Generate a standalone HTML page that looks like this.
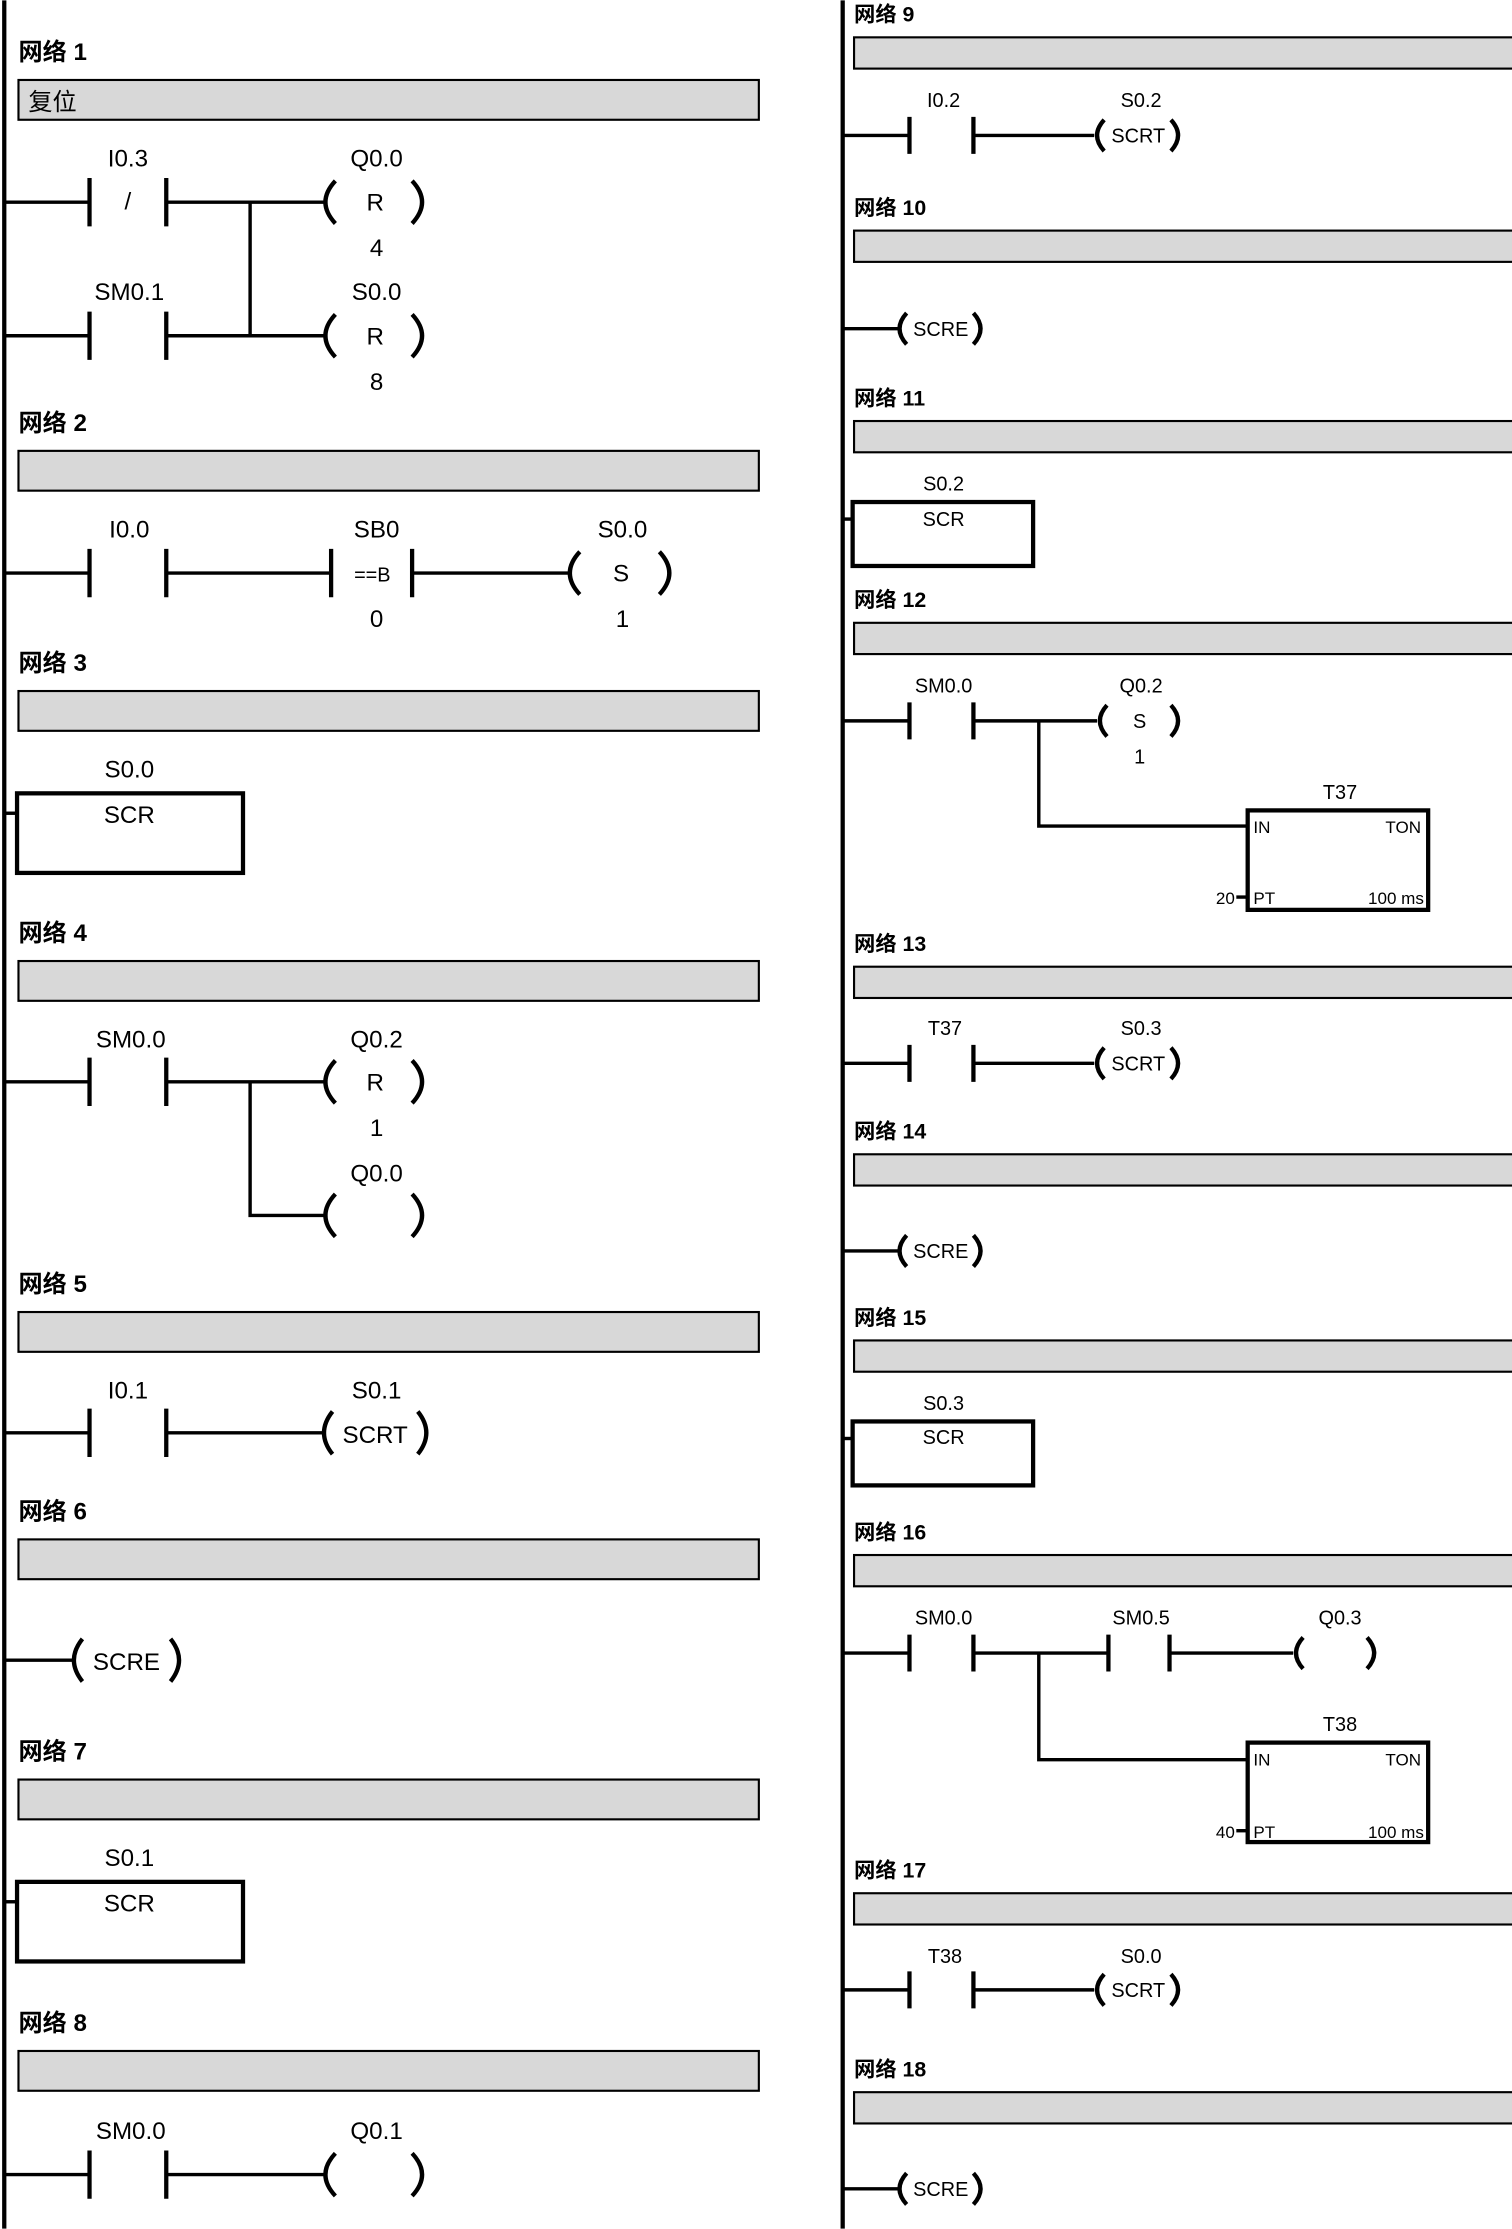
<!DOCTYPE html>
<html><head><meta charset="utf-8"><style>
html,body{margin:0;padding:0;background:#fff;}
svg{display:block;}
text{font-family:"Liberation Sans","Noto Sans CJK SC",sans-serif;fill:#000;}
.h{font-weight:bold;font-size:17px;}
.hr{font-weight:bold;font-size:15px;}
.l{font-size:17px;text-anchor:middle;}
.r{font-size:14px;text-anchor:middle;}
.s{font-size:14px;}
.t{font-size:12px;}
.w{stroke:#000;stroke-width:2.4;fill:none;}
.b{stroke:#000;stroke-width:3;fill:none;}
.bar{fill:#d8d8d8;stroke:#000;stroke-width:1.5;}
</style></head><body>
<svg width="1512" height="2229" viewBox="0 0 1064 1568" xmlns="http://www.w3.org/2000/svg">
<rect width="1064" height="1568" fill="#fff"/>
<line x1="3" y1="0" x2="3" y2="1568" stroke="#000" stroke-width="3"/>
<line x1="593" y1="0" x2="593" y2="1568" stroke="#000" stroke-width="3"/>

<text class="h" x="13" y="42">网络 1</text>
<rect class="bar" x="13" y="56" width="521" height="28"/>
<text x="20" y="77" style="font-size:17px">复位</text>
<path class="w" d="M3 142H63M117 142H228"/>
<path class="b" d="M63 125V159M117 125V159"/>
<text class="l" x="90" y="147">/</text>
<text class="l" x="90" y="117">I0.3</text>
<path class="b" d="M236 127Q222 142 236 157M290 127Q304 142 290 157"/>
<text class="l" x="264" y="148">R</text>
<text class="l" x="265" y="117">Q0.0</text>
<text class="l" x="265" y="180">4</text>
<path class="w" d="M3 236H63M117 236H228M176 142V236"/>
<path class="b" d="M63 219V253M117 219V253"/>
<text class="l" x="91" y="211">SM0.1</text>
<path class="b" d="M236 221Q222 236 236 251M290 221Q304 236 290 251"/>
<text class="l" x="264" y="242">R</text>
<text class="l" x="265" y="211">S0.0</text>
<text class="l" x="265" y="274">8</text>

<text class="h" x="13" y="303">网络 2</text>
<rect class="bar" x="13" y="317" width="521" height="28"/>
<path class="w" d="M3 403H63M117 403H233M290 403H400"/>
<path class="b" d="M63 386V420M117 386V420M233 386V420M290 386V420"/>
<text class="l" x="91" y="378">I0.0</text>
<text class="r" x="262" y="409">==B</text>
<text class="l" x="265" y="378">SB0</text>
<text class="l" x="265" y="441">0</text>
<path class="b" d="M408 388Q394 403 408 418M464 388Q478 403 464 418"/>
<text class="l" x="437" y="409">S</text>
<text class="l" x="438" y="378">S0.0</text>
<text class="l" x="438" y="441">1</text>

<text class="h" x="13" y="472">网络 3</text>
<rect class="bar" x="13" y="486" width="521" height="28"/>
<rect class="b" x="12" y="558" width="159" height="56"/>
<path class="w" d="M3 572H12"/>
<text class="l" x="91" y="547">S0.0</text>
<text class="l" x="91" y="579">SCR</text>

<text class="h" x="13" y="662">网络 4</text>
<rect class="bar" x="13" y="676" width="521" height="28"/>
<path class="w" d="M3 761H63M117 761H228M176 761V855H228"/>
<path class="b" d="M63 744V778M117 744V778"/>
<text class="l" x="92" y="737">SM0.0</text>
<path class="b" d="M236 746Q222 761 236 776M290 746Q304 761 290 776"/>
<text class="l" x="264" y="767">R</text>
<text class="l" x="265" y="737">Q0.2</text>
<text class="l" x="265" y="799">1</text>
<path class="b" d="M236 840Q222 855 236 870M290 840Q304 855 290 870"/>
<text class="l" x="265" y="831">Q0.0</text>

<text class="h" x="13" y="909">网络 5</text>
<rect class="bar" x="13" y="923" width="521" height="28"/>
<path class="w" d="M3 1008H63M117 1008H228"/>
<path class="b" d="M63 991V1025M117 991V1025"/>
<text class="l" x="90" y="984">I0.1</text>
<path class="b" d="M234 993Q222 1008 234 1023M294 993Q306 1008 294 1023"/>
<text class="l" x="264" y="1015">SCRT</text>
<text class="l" x="265" y="984">S0.1</text>

<text class="h" x="13" y="1069">网络 6</text>
<rect class="bar" x="13" y="1083" width="521" height="28"/>
<path class="w" d="M3 1168H52"/>
<path class="b" d="M58 1153Q46 1168 58 1183M120 1153Q132 1168 120 1183"/>
<text class="l" x="89" y="1175">SCRE</text>

<text class="h" x="13" y="1238">网络 7</text>
<rect class="bar" x="13" y="1252" width="521" height="28"/>
<rect class="b" x="12" y="1324" width="159" height="56"/>
<path class="w" d="M3 1338H12"/>
<text class="l" x="91" y="1313">S0.1</text>
<text class="l" x="91" y="1345">SCR</text>

<text class="h" x="13" y="1429">网络 8</text>
<rect class="bar" x="13" y="1443" width="521" height="28"/>
<path class="w" d="M3 1530H63M117 1530H228"/>
<path class="b" d="M63 1513V1547M117 1513V1547"/>
<text class="l" x="92" y="1505">SM0.0</text>
<path class="b" d="M236 1515Q222 1530 236 1545M290 1515Q304 1530 290 1545"/>
<text class="l" x="265" y="1505">Q0.1</text>

<text class="hr" x="601" y="15">网络 9</text>
<rect class="bar" x="601" y="26" width="470" height="22"/>
<path class="w" d="M593 95H640M685 95H770"/>
<path class="b" d="M640 82V108M685 82V108"/>
<text class="r" x="664" y="75">I0.2</text>
<path class="b" d="M777 84Q767 95 777 106M824 84Q834 95 824 106"/>
<text class="s" x="801" y="100" text-anchor="middle">SCRT</text>
<text class="r" x="803" y="75">S0.2</text>

<text class="hr" x="601" y="151">网络 10</text>
<rect class="bar" x="601" y="162" width="470" height="22"/>
<path class="w" d="M593 231H632"/>
<path class="b" d="M638 220Q628 231 638 242M685 220Q695 231 685 242"/>
<text class="s" x="662" y="236" text-anchor="middle">SCRE</text>

<text class="hr" x="601" y="285">网络 11</text>
<rect class="bar" x="601" y="296" width="470" height="22"/>
<rect class="b" x="600" y="353" width="127" height="45"/>
<path class="w" d="M593 365H600"/>
<text class="r" x="664" y="345">S0.2</text>
<text class="s" x="664" y="370" text-anchor="middle">SCR</text>

<text class="hr" x="601" y="427">网络 12</text>
<rect class="bar" x="601" y="438" width="470" height="22"/>
<path class="w" d="M593 507H640M685 507H772M731 507V581H878"/>
<path class="b" d="M640 494V520M685 494V520"/>
<text class="r" x="664" y="487">SM0.0</text>
<path class="b" d="M779 496Q769 507 779 518M824 496Q834 507 824 518"/>
<text class="s" x="802" y="512" text-anchor="middle">S</text>
<text class="r" x="803" y="487">Q0.2</text>
<text class="r" x="802" y="537">1</text>
<rect class="b" x="878" y="570" width="127" height="70"/>
<text class="r" x="943" y="562">T37</text>
<text class="t" x="882" y="586">IN</text>
<text class="t" x="1000" y="586" text-anchor="end">TON</text>
<path class="w" d="M870 631H878"/>
<text class="t" x="869" y="636" text-anchor="end">20</text>
<text class="t" x="882" y="636">PT</text>
<text class="t" x="1002" y="636" text-anchor="end">100 ms</text>

<text class="hr" x="601" y="669">网络 13</text>
<rect class="bar" x="601" y="680" width="470" height="22"/>
<path class="w" d="M593 748H640M685 748H770"/>
<path class="b" d="M640 735V761M685 735V761"/>
<text class="r" x="665" y="728">T37</text>
<path class="b" d="M777 737Q767 748 777 759M824 737Q834 748 824 759"/>
<text class="s" x="801" y="753" text-anchor="middle">SCRT</text>
<text class="r" x="803" y="728">S0.3</text>

<text class="hr" x="601" y="801">网络 14</text>
<rect class="bar" x="601" y="812" width="470" height="22"/>
<path class="w" d="M593 880H632"/>
<path class="b" d="M638 869Q628 880 638 891M685 869Q695 880 685 891"/>
<text class="s" x="662" y="885" text-anchor="middle">SCRE</text>

<text class="hr" x="601" y="932">网络 15</text>
<rect class="bar" x="601" y="943" width="470" height="22"/>
<rect class="b" x="600" y="1000" width="127" height="45"/>
<path class="w" d="M593 1012H600"/>
<text class="r" x="664" y="992">S0.3</text>
<text class="s" x="664" y="1016" text-anchor="middle">SCR</text>

<text class="hr" x="601" y="1083">网络 16</text>
<rect class="bar" x="601" y="1094" width="470" height="22"/>
<path class="w" d="M593 1163H640M685 1163H780M823 1163H910M731 1163V1238H878"/>
<path class="b" d="M640 1150V1176M685 1150V1176M780 1150V1176M823 1150V1176"/>
<text class="r" x="664" y="1143">SM0.0</text>
<text class="r" x="803" y="1143">SM0.5</text>
<path class="b" d="M917 1152Q907 1163 917 1174M962 1152Q972 1163 962 1174"/>
<text class="r" x="943" y="1143">Q0.3</text>
<rect class="b" x="878" y="1226" width="127" height="70"/>
<text class="r" x="943" y="1218">T38</text>
<text class="t" x="882" y="1242">IN</text>
<text class="t" x="1000" y="1242" text-anchor="end">TON</text>
<path class="w" d="M870 1288H878"/>
<text class="t" x="869" y="1293" text-anchor="end">40</text>
<text class="t" x="882" y="1293">PT</text>
<text class="t" x="1002" y="1293" text-anchor="end">100 ms</text>

<text class="hr" x="601" y="1321">网络 17</text>
<rect class="bar" x="601" y="1332" width="470" height="22"/>
<path class="w" d="M593 1400H640M685 1400H770"/>
<path class="b" d="M640 1387V1413M685 1387V1413"/>
<text class="r" x="665" y="1381">T38</text>
<path class="b" d="M777 1389Q767 1400 777 1411M824 1389Q834 1400 824 1411"/>
<text class="s" x="801" y="1405" text-anchor="middle">SCRT</text>
<text class="r" x="803" y="1381">S0.0</text>

<text class="hr" x="601" y="1461">网络 18</text>
<rect class="bar" x="601" y="1472" width="470" height="22"/>
<path class="w" d="M593 1540H632"/>
<path class="b" d="M638 1529Q628 1540 638 1551M685 1529Q695 1540 685 1551"/>
<text class="s" x="662" y="1545" text-anchor="middle">SCRE</text>
</svg>
</body></html>
